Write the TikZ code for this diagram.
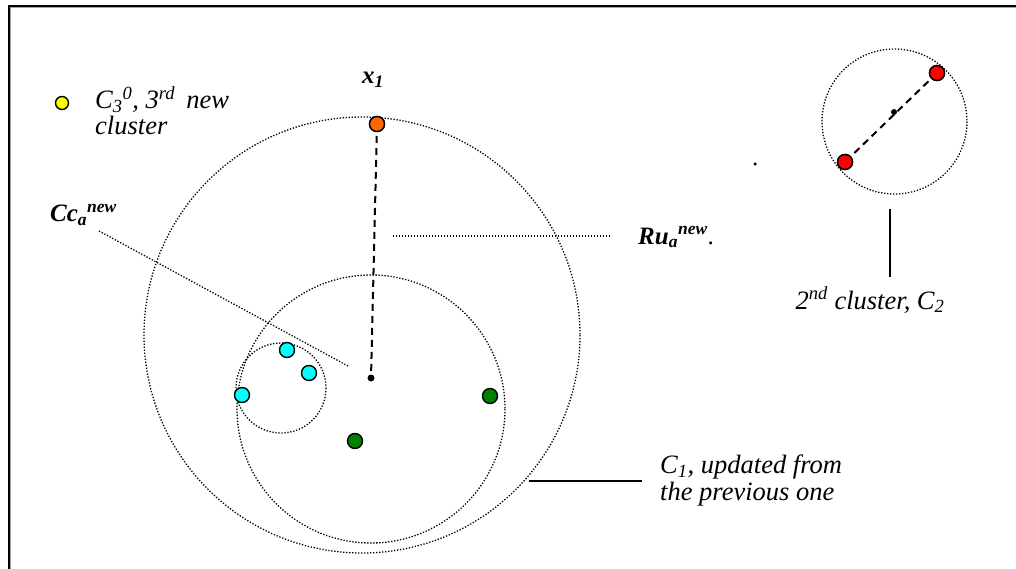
\documentclass[tikz,border=0pt]{standalone}
\usepackage{fontspec}
\setmainfont{Liberation Serif}
\definecolor{pred}{RGB}{255,0,0}
\definecolor{porange}{RGB}{255,102,0}
\definecolor{pcyan}{RGB}{0,255,255}
\definecolor{pgreen}{RGB}{0,128,0}
\definecolor{pyellow}{RGB}{255,255,0}
\begin{document}
\begin{tikzpicture}[x=1pt,y=-1pt,
  dotline/.style={line width=1.3pt,dash pattern=on 1.3pt off 1.7pt},
  dashline/.style={line width=2pt,dash pattern=on 7pt off 5pt},
  pt/.style={circle,draw=black,line width=1.4pt,minimum size=15pt,inner sep=0pt},
  cdot/.style={circle,fill=black,minimum size=7pt,inner sep=0pt},
  lbl/.style={font=\fontsize{26.5}{26.5}\selectfont\itshape,inner sep=0pt,align=left},
  blbl/.style={font=\fontsize{25}{30}\selectfont\bfseries\itshape,inner sep=0pt}]
\useasboundingbox (0,0) rectangle (1016,569);
% frame
\draw[line width=2pt,gray!70] (10,570) -- (10,7) -- (1017,7);
\draw[line width=1.4pt] (9,570) -- (9,6) -- (1017,6);
% circles
\draw[dotline] (362,335) circle (218);
\draw[dotline] (371,409) circle (134);
\draw[dotline] (281,388) circle (45);
\draw[dotline] (894.5,121.5) circle (72.5);
% C2
\node[pt,fill=pred] (r1) at (937,73) {};
\node[pt,fill=pred] (r2) at (845,162) {};
\node[cdot,minimum size=6pt] (c2c) at (894,112) {};
\draw[dashline] (r1.center) -- (r2.center);
\node[pt,fill=pred] at (937,73) {};
\node[pt,fill=pred] at (845,162) {};
\node[cdot,minimum size=3.5pt] (lonedot) at (755,164) {};
\coordinate (c2a) at (890,209);
\coordinate (c2b) at (890,277);
\draw[line width=1.8pt] (c2a) -- (c2b);
\node[lbl,anchor=base] (c2lbl) at (870,309) {2\textsuperscript{nd} cluster, \textit{C}\textsubscript{2}};
% main cluster
\node[cdot] (ctr) at (371,378) {};
\node[pt,fill=porange] (x1) at (377,124) {};
\draw[dashline] (x1.center) -- (ctr.center);
\node[pt,fill=porange] at (377,124) {};
\node[blbl,anchor=base] (x1lbl) at (373,84) {x\textsubscript{\textit{1}}};
\node[pt,fill=pcyan] (cy1) at (287,350) {};
\node[pt,fill=pcyan] (cy2) at (309,373) {};
\node[pt,fill=pcyan] (cy3) at (242,395) {};
\node[pt,fill=pgreen] (g1) at (490,396) {};
\node[pt,fill=pgreen] (g2) at (355,441) {};
% Cc
\coordinate (cca) at (99,231);
\coordinate (ccb) at (348,366);
\draw[dotline] (cca) -- (ccb);
\node[blbl,anchor=base west] (cclbl) at (50,222) {Cc\textsubscript{a}\textsuperscript{new}};
% Ru
\coordinate (rua) at (393,236);
\coordinate (rub) at (612,236);
\draw[dotline] (rua) -- (rub);
\node[blbl,anchor=base west] (rulbl) at (638,244) {Ru\textsubscript{a}\textsuperscript{new}\textnormal{.}};
% C3
\node[pt,fill=pyellow,minimum size=13pt] (y1) at (62,103) {};
\node[lbl,anchor=base west] (c3lbl) at (95,135) {C\textsubscript{3}\textsuperscript{0}, 3\textsuperscript{rd}\, new\\cluster};
% C1
\coordinate (c1a) at (529,481);
\coordinate (c1b) at (642,481);
\draw[line width=1.8pt] (c1a) -- (c1b);
\node[lbl,anchor=base west] (c1lbl) at (660,500) {C\textsubscript{1}, updated from\\the previous one};
\end{tikzpicture}
\end{document}
